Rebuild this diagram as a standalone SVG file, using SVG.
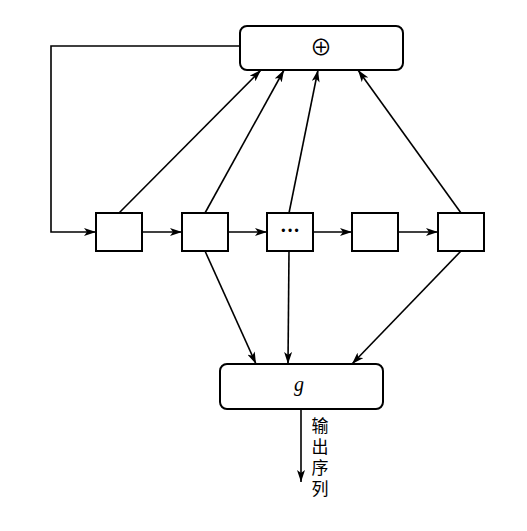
<svg xmlns="http://www.w3.org/2000/svg" width="527" height="531" viewBox="0 0 527 531">
<defs>
<marker id="ah" viewBox="0 0 12 8" refX="12" refY="4" markerWidth="12" markerHeight="8" markerUnits="userSpaceOnUse" orient="auto">
<path d="M0,0 L12,4 L0,8 L3,4 Z" fill="#000"/>
</marker>
<style>
.box{fill:#fff;stroke:#000;stroke-width:2}
.ln{fill:none;stroke:#000;stroke-width:1.6;marker-end:url(#ah)}
.t{font-family:"Liberation Serif","Noto Sans CJK SC",serif;fill:#000}
</style>
</defs>
<rect width="527" height="531" fill="#fff"/>
<g id="connectors">
<path class="ln" d="M240,46 H51 V232 H96"/>
<path class="ln" d="M142,232 H182"/>
<path class="ln" d="M228,232 H267"/>
<path class="ln" d="M313,232 H352"/>
<path class="ln" d="M398,232 H438"/>
<path class="ln" d="M119,213 L261,70"/>
<path class="ln" d="M205,213 L284,70"/>
<path class="ln" d="M289,213 L318,70"/>
<path class="ln" d="M461,213 L358,70"/>
<path class="ln" d="M205,251 L256,364"/>
<path class="ln" d="M289,251 L288,364"/>
<path class="ln" d="M461,251 L352,364"/>
<path class="ln" d="M301,409 V482"/>
</g>
<g id="xor">
<rect class="box" x="240" y="26" width="163" height="44" rx="7"/>
<text class="t" x="321" y="55" font-size="22" text-anchor="middle">⊕</text>
</g>
<g id="r1"><rect class="box" x="96" y="213" width="46" height="38"/></g>
<g id="r2"><rect class="box" x="182" y="213" width="46" height="38"/></g>
<g id="r3"><rect class="box" x="267" y="213" width="46" height="38"/>
<text class="t" x="290" y="237" font-size="20" font-weight="bold" text-anchor="middle">···</text></g>
<g id="r4"><rect class="box" x="352" y="213" width="46" height="38"/></g>
<g id="r5"><rect class="box" x="438" y="213" width="46" height="38"/></g>
<g id="g">
<rect class="box" x="220" y="364" width="163" height="45" rx="7"/>
<text class="t" x="299" y="391" font-size="20" font-style="italic" text-anchor="middle">g</text>
</g>
<g id="out">
<text class="t" font-size="17" text-anchor="middle"><tspan x="320" y="432">输</tspan><tspan x="320" y="453">出</tspan><tspan x="320" y="474">序</tspan><tspan x="320" y="495">列</tspan></text>
</g>
</svg>
